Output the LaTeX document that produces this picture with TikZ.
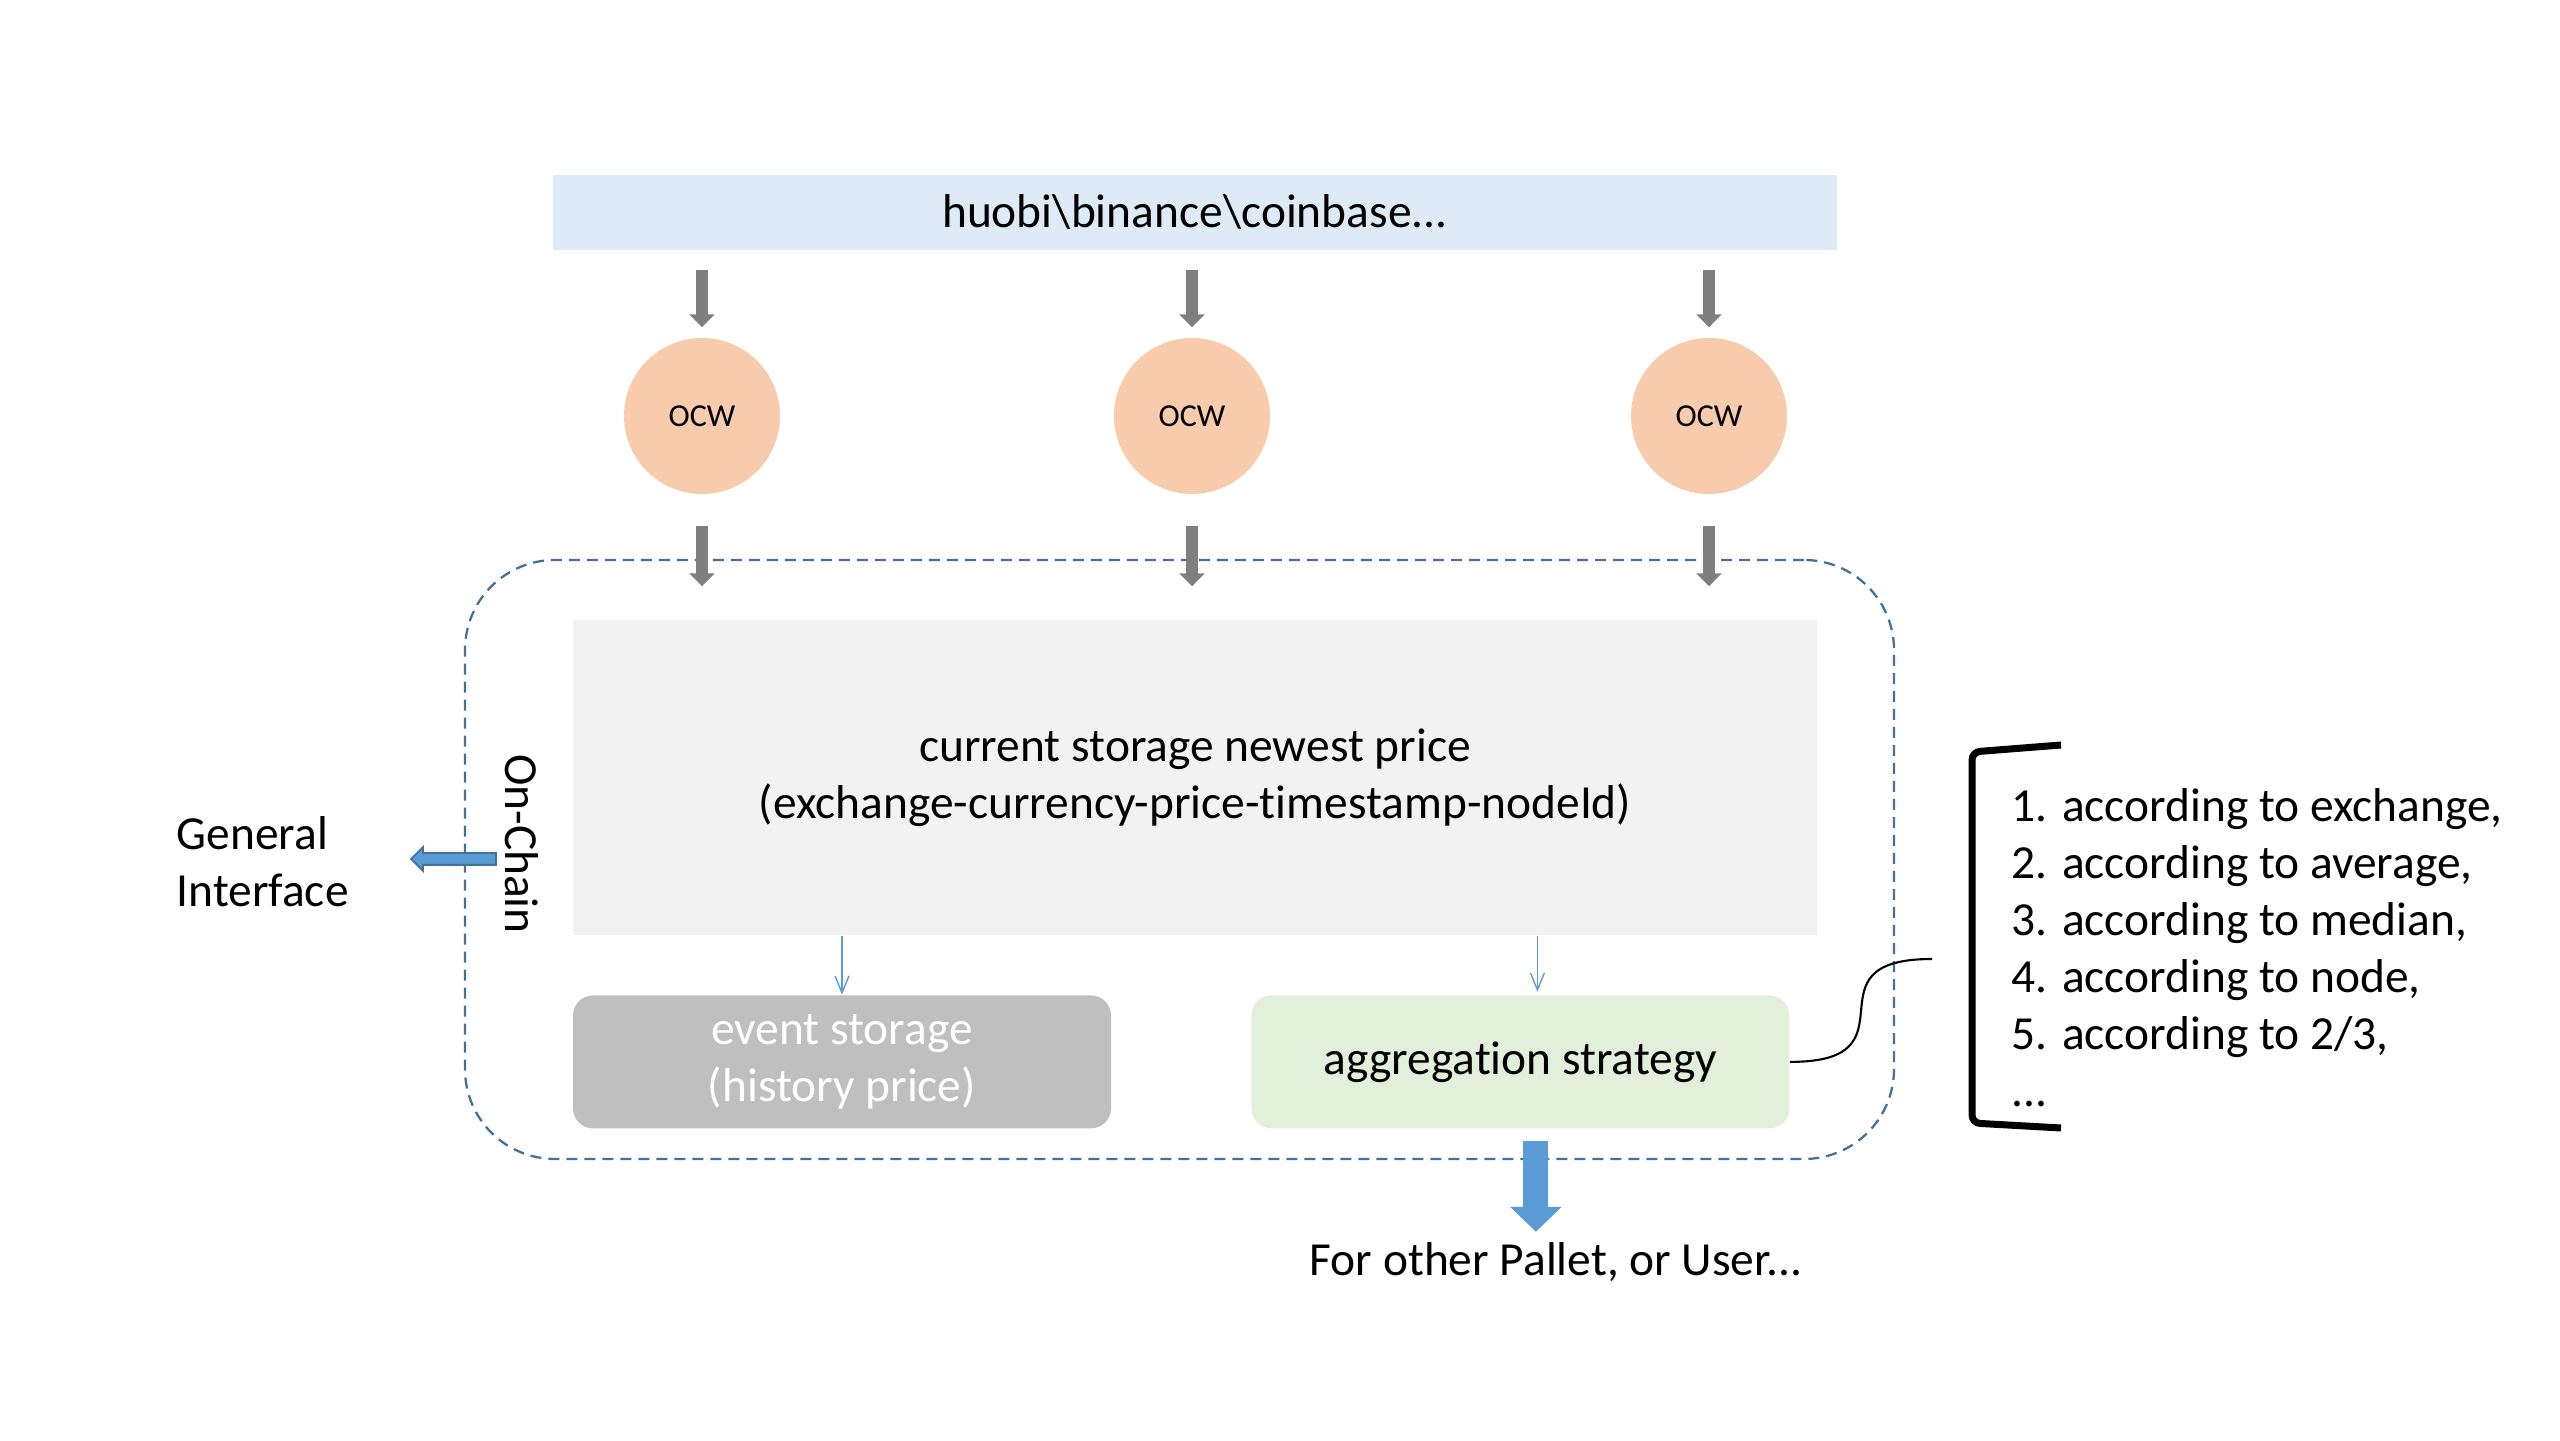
\documentclass[tikz,border=0pt]{standalone}
\usepackage{fontspec}
\setmainfont{Carlito}[Ligatures=NoCommon]
\usetikzlibrary{positioning, arrows.meta, shapes.arrows}

\definecolor{srcblue}{HTML}{DEEBF7}
\definecolor{ocwpeach}{HTML}{F8CBAD}
\definecolor{storegray}{HTML}{F2F2F2}
\definecolor{eventgray}{HTML}{BFBFBF}
\definecolor{aggreen}{HTML}{E2EFDA}
\definecolor{chainblue}{HTML}{41719C}
\definecolor{flowblue}{HTML}{5B9BD5}
\definecolor{feedgray}{HTML}{7F7F7F}

\begin{document}
\begin{tikzpicture}[
    txt/.style={font=\fontsize{13.5}{16.2}\selectfont, align=center},
    box/.style={txt, minimum width=5.38cm, minimum height=1.33cm, rounded corners=0.2cm},
    ocw/.style={circle, fill=ocwpeach, minimum size=1.56cm, inner sep=0, font=\fontsize{9.1}{11}\selectfont},
    feed/.style={draw=feedgray, line width=0.12cm, -{Triangle[width=0.25cm, length=0.13cm]}},
    thinflow/.style={draw=flowblue, line width=0.4pt, -{Straight Barb[width=0.14cm, length=0.17cm]}},
    outflow/.style={draw=flowblue, line width=0.25cm, -{Triangle[width=0.5cm, length=0.25cm]}}
]

\useasboundingbox (0,0) rectangle (25.6,14.4);

% Exchanges
\node[txt, fill=srcblue, minimum width=12.84cm, minimum height=0.75cm, inner sep=0] (src) at (11.95,12.275) {huobi\textbackslash binance\textbackslash coinbase...};

% Off-chain workers
\node[ocw] (ocw1) at (7.02,10.24) {OCW};
\node[ocw] (ocw2) at (11.92,10.24) {OCW};
\node[ocw] (ocw3) at (17.09,10.24) {OCW};

% On-chain part
\node[draw=chainblue, line width=0.65pt, dash pattern=on 0.11cm off 0.07cm, rounded corners=0.9cm, minimum width=14.29cm, minimum height=5.99cm] (chain) at (11.795,5.805) {};
\node[txt, fill=storegray, minimum width=12.44cm, minimum height=3.15cm] (store) at (11.95,6.625) {current storage newest price\\(exchange-currency-price-timestamp-nodeId)};
\node[txt, rotate=-90] (onchain) at (5.22,5.96) {On-Chain};

\node[box, fill=eventgray, text=white, below=0.59cm of store.south west, anchor=north west] (event) {event storage\\(history price)};
\node[box, fill=aggreen, right=1.39cm of event] (agg) {aggregation strategy};

\foreach \w in {ocw1, ocw2, ocw3} {
    \draw[feed, shorten <=0.19cm, shorten >=0.10cm] (src.south -| \w) -- (\w.north);
    \draw[feed, shorten <=0.31cm, shorten >=0.33cm] (\w.south) -- (\w.south |- store.north);
}

\draw[thinflow] (store.south -| event) -- (event.north);
\draw[thinflow, shorten >=0.03cm] ([xshift=0.17cm]agg.north |- store.south) -- ([xshift=0.17cm]agg.north);

% General interface
\node[txt, align=left, anchor=west, inner sep=0] (gi) at (1.76,5.785) {General\\Interface};
\node[single arrow, draw=chainblue, fill=flowblue, line width=0.5pt, shape border rotate=180, minimum height=0.85cm, inner sep=0.05cm, single arrow head extend=0.06cm] (giarrow) at (4.565,5.81) {};

% Output
\node[txt, inner sep=0.1cm] (users) at (15.56,1.78) {For other Pallet, or User...};
\draw[outflow] ([xshift=0.155cm, yshift=-0.12cm]agg.south) -- ([xshift=0.155cm]agg.south |- users.north);

% Strategies
\coordinate (hook) at (19.32,4.81);
\draw[line width=0.6pt] (agg.east) .. controls +(1.32,0) and +(-1.32,0) .. (hook);
\draw[line width=0.07cm, rounded corners=0.08cm] (20.61,6.95) -- (19.72,6.88) -- (19.72,3.17) -- (20.61,3.12);
\node[txt, align=left, anchor=west, inner sep=0] (rules) at (20.11,4.92) {1. according to exchange,\\2. according to average,\\3. according to median,\\4. according to node,\\5. according to 2/3,\\...};

\end{tikzpicture}
\end{document}
